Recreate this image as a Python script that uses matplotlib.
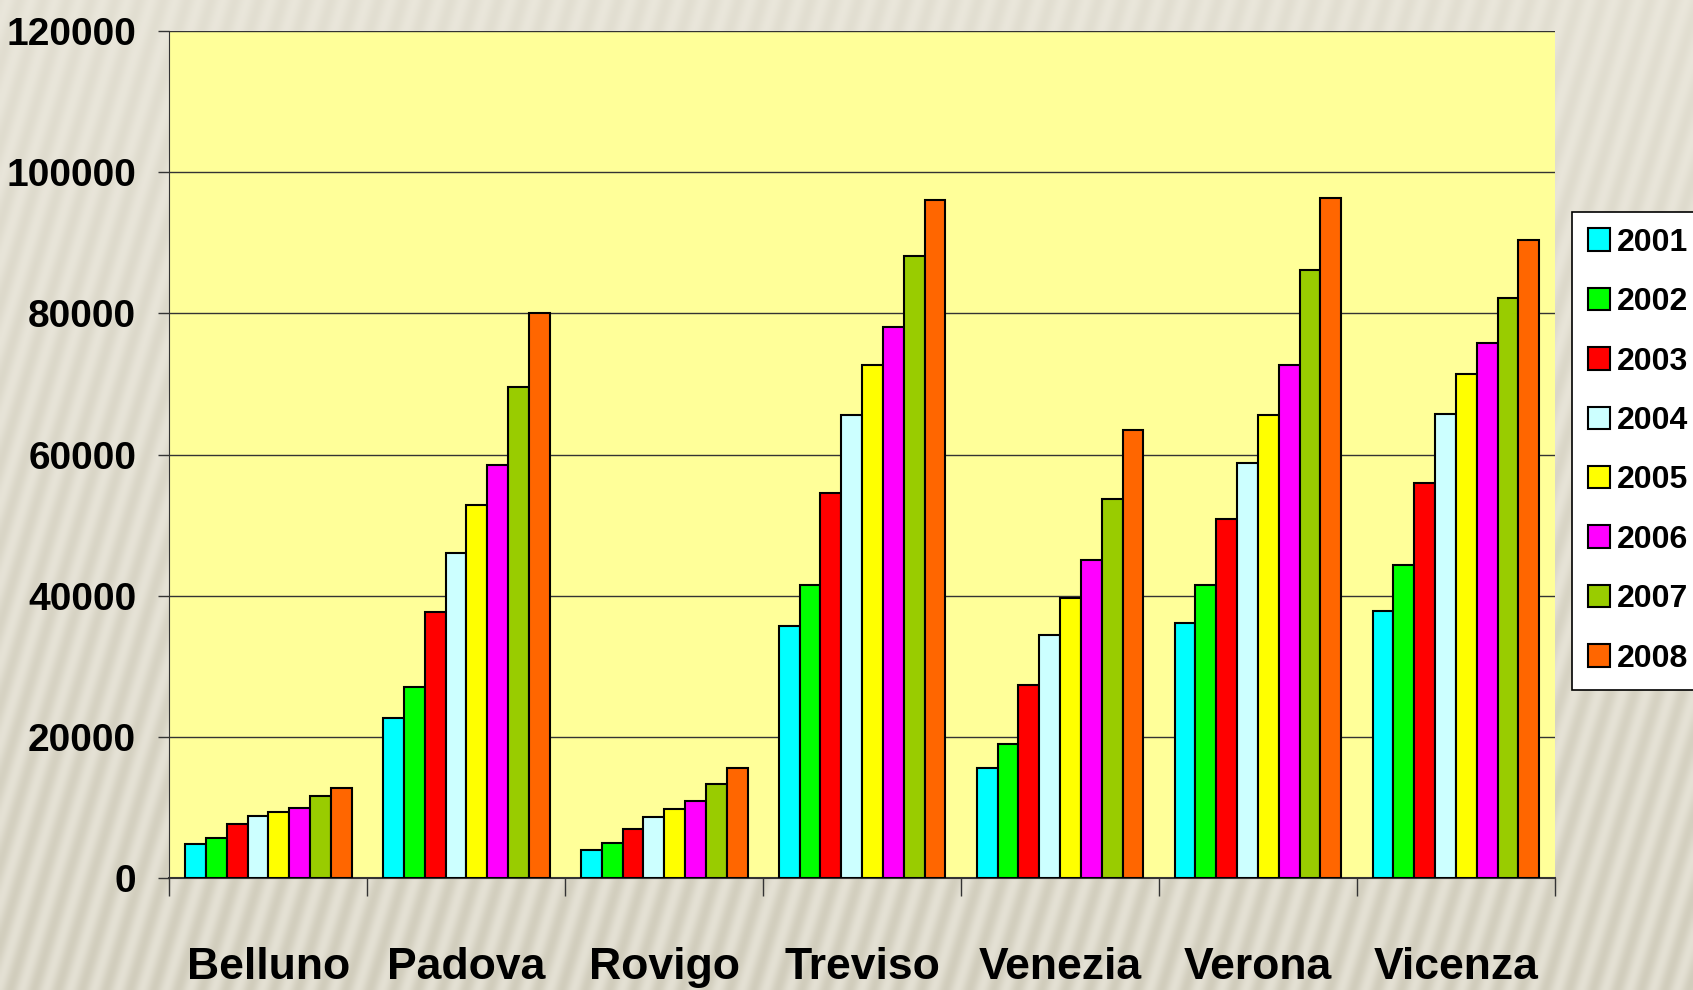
import numpy as np
import matplotlib.pyplot as plt
from matplotlib.patches import Patch
from matplotlib.colors import LinearSegmentedColormap

provinces = ["Belluno", "Padova", "Rovigo", "Treviso", "Venezia", "Verona", "Vicenza"]
years = ["2001", "2002", "2003", "2004", "2005", "2006", "2007", "2008"]

v2001 = [4750, 22650, 3980, 35660, 15610, 36120, 37800]
v2002 = [5660, 27090, 4900, 41480, 18980, 41480, 44390]
v2003 = [7650, 37650, 6890, 54490, 27400, 50810, 56020]
v2004 = [8720, 46070, 8570, 65660, 34440, 58770, 65820]
v2005 = [9340, 52800, 9800, 72700, 39640, 65660, 71480]
v2006 = [9950, 58470, 10870, 78060, 45000, 72700, 75770]
v2007 = [11630, 69640, 13320, 88160, 53720, 86170, 82190]
v2008 = [12700, 80000, 15610, 96120, 63520, 96430, 90460]
series = [v2001, v2002, v2003, v2004, v2005, v2006, v2007, v2008]

colors = ["#00FFFF", "#00FF00", "#FF0000", "#CCFFFF",
          "#FFFF00", "#FF00FF", "#99CC00", "#FF6600"]

plt.rcParams["font.family"] = ["Liberation Sans", "DejaVu Sans"]
plt.rcParams["font.weight"] = "bold"

fig = plt.figure(figsize=(16.93, 9.90), dpi=100, facecolor="#ebe8dc")

# soft diagonal stripes in the backdrop
bg = fig.add_axes([0, 0, 1, 1], zorder=-10)
yy, xx = np.mgrid[0:495, 0:847]
stripes = np.sin((xx + yy * 0.3) * 2 * np.pi / 12.0)
shade = 0.2 + 0.3 * (yy / 495.0)
texture = stripes * shade - 0.6 * (yy / 495.0)
cmap = LinearSegmentedColormap.from_list("beige", ["#cfcbba", "#f1eee4"])
bg.imshow(texture, cmap=cmap, vmin=-1.2, vmax=0.6, aspect="auto",
          interpolation="bilinear")
bg.axis("off")

ax = fig.add_axes([0.1001, 0.1133, 0.8183, 0.8551])
ax.set_facecolor("#FFFF99")

n = len(years)
width = 1.0 / (n + 1.5)
x = np.arange(len(provinces))
for i, vals in enumerate(series):
    ax.bar(x + (i - (n - 1) / 2) * width, vals, width, color=colors[i],
           edgecolor="black", linewidth=1.5, zorder=3)

ax.set_xlim(-0.5, len(provinces) - 0.5)
ax.set_ylim(0, 120000)
ax.set_yticks(range(0, 120001, 20000))
ax.grid(axis="y", color="#333333", linewidth=1.0, zorder=0)

ax.set_xticks(x)
ax.set_xticklabels(provinces)
ax.set_xticks(np.arange(-0.5, len(provinces)), minor=True)
ax.tick_params(axis="x", which="major", length=0, pad=50, labelsize=32)
ax.tick_params(axis="x", which="minor", length=13, width=1, color="#333333")
ax.tick_params(axis="y", length=8, width=1, color="#333333", pad=16, labelsize=28)

for s in ["top", "right"]:
    ax.spines[s].set_visible(False)
ax.spines["left"].set_color("#333333")
ax.spines["bottom"].set_color("#333333")
ax.spines["bottom"].set_linewidth(1.5)

handles = [Patch(facecolor=c, edgecolor="black", linewidth=1.5) for c in colors]
leg = fig.legend(handles, years, loc="upper left", bbox_to_anchor=(0.9285, 0.786),
                 fontsize=23, frameon=True, fancybox=False, edgecolor="black",
                 framealpha=1, handlelength=0.7, handleheight=0.7, handletextpad=0.22,
                 labelspacing=0.92, borderpad=0.5, borderaxespad=0)
leg.get_frame().set_linewidth(1.2)

fig.savefig("out.png", dpi=100, facecolor=fig.get_facecolor())
